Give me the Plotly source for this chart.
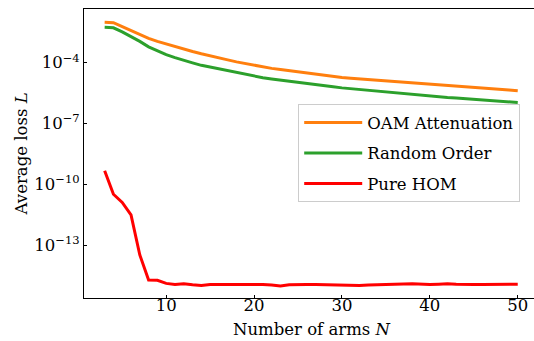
import plotly.graph_objects as go

N = list(range(3, 51))

# log10 of average loss
oam_log = [-2.01, -2.03, -2.22, -2.42, -2.62, -2.80, -2.95, -3.08, -3.20, -3.32,
           -3.45, -3.56, -3.67, -3.77, -3.86, -3.96, -4.04, -4.14, -4.22, -4.28,
           -4.34, -4.40, -4.46, -4.52, -4.58, -4.64, -4.69, -4.73, -4.77, -4.80,
           -4.83, -4.87, -4.89, -4.92, -4.96, -4.99, -5.02, -5.06, -5.09, -5.12,
           -5.15, -5.18, -5.22, -5.24, -5.27, -5.31, -5.34, -5.38]
random_log = [-2.26, -2.28, -2.48, -2.70, -2.95, -3.22, -3.42, -3.60, -3.75, -3.89,
              -4.01, -4.13, -4.22, -4.31, -4.41, -4.50, -4.57, -4.66, -4.74, -4.80,
              -4.86, -4.92, -4.98, -5.03, -5.08, -5.14, -5.19, -5.24, -5.28, -5.33,
              -5.38, -5.42, -5.45, -5.48, -5.51, -5.55, -5.59, -5.63, -5.67, -5.71,
              -5.74, -5.77, -5.81, -5.84, -5.87, -5.90, -5.93, -5.96]
hom_log = [-9.32, -10.48, -10.88, -11.50, -13.47, -14.70, -14.72, -14.87, -14.92, -14.89,
           -14.94, -14.97, -14.93, -14.92, -14.92, -14.93, -14.93, -14.92, -14.93, -14.95,
           -15.00, -14.94, -14.92, -14.93, -14.93, -14.94, -14.93, -14.93, -14.95, -14.97,
           -14.95, -14.93, -14.93, -14.92, -14.90, -14.89, -14.91, -14.93, -14.91, -14.89,
           -14.91, -14.93, -14.93, -14.92, -14.92, -14.92, -14.92, -14.91]

series_names = ["OAM Attenuation", "Random Order", "Pure HOM"]
series_colors = ["#ff7f0e", "#2ca02c", "#ff0000"]
series_values = [[10 ** v for v in oam_log],
                 [10 ** v for v in random_log],
                 [10 ** v for v in hom_log]]

x_ticks = [10, 20, 30, 40, 50]
y_tick_exps = [-4, -7, -10, -13]

FONT = "DejaVu Serif"
FS = 16.5

fig = go.Figure()
for name, color, vals in zip(series_names, series_colors, series_values):
    fig.add_trace(go.Scatter(x=N, y=vals, mode="lines", name=name, legendgroup=name,
                             line=dict(color=color, width=3)))

fig.update_layout(
    width=534, height=341,
    margin=dict(l=84, r=0, t=9, b=43),
    paper_bgcolor="white", plot_bgcolor="white",
    font=dict(family=FONT, size=FS, color="black"),
    showlegend=True,
    legend=dict(x=0.476, y=0.67, xanchor="left", yanchor="top",
                bgcolor="rgba(255,255,255,0.8)", bordercolor="#cccccc", borderwidth=1,
                font=dict(family=FONT, size=FS, color="black"),
                itemwidth=58, tracegroupgap=6, traceorder="grouped"),
    xaxis=dict(range=[0.65, 51.85], tickvals=x_ticks, ticktext=[str(t) for t in x_ticks],
               showline=True, linecolor="black", linewidth=1, mirror=True,
               ticks="inside", ticklen=3, tickwidth=0.8, tickcolor="black",
               showgrid=False, zeroline=False, automargin=False,
               ticklabelstandoff=-8,
               tickfont=dict(family=FONT, size=FS)),
    yaxis=dict(type="log", range=[-15.59, -1.355],
               tickvals=[10 ** e for e in y_tick_exps],
               ticktext=["10<sup>\u2212%d</sup>" % (-e) for e in y_tick_exps],
               showline=True, linecolor="black", linewidth=1, mirror=False,
               ticks="inside", ticklen=3, tickwidth=0.8, tickcolor="black",
               showgrid=False, zeroline=False, automargin=False,
               tickfont=dict(family=FONT, size=FS)),
    annotations=[
        dict(text="Number of arms <i>N</i>", xref="paper", yref="paper",
             x=0.506, y=-0.11, xanchor="center", yanchor="middle", showarrow=False,
             font=dict(family=FONT, size=FS, color="black")),
        dict(text="Average loss <i>L</i>", xref="paper", yref="paper",
             x=-0.138, y=0.5, xanchor="center", yanchor="middle", showarrow=False,
             textangle=-90, font=dict(family=FONT, size=FS, color="black")),
    ],
)

fig.write_html("out.html", config={"displayModeBar": False},
               post_script="document.body.style.margin='0';document.body.style.padding='0';")
